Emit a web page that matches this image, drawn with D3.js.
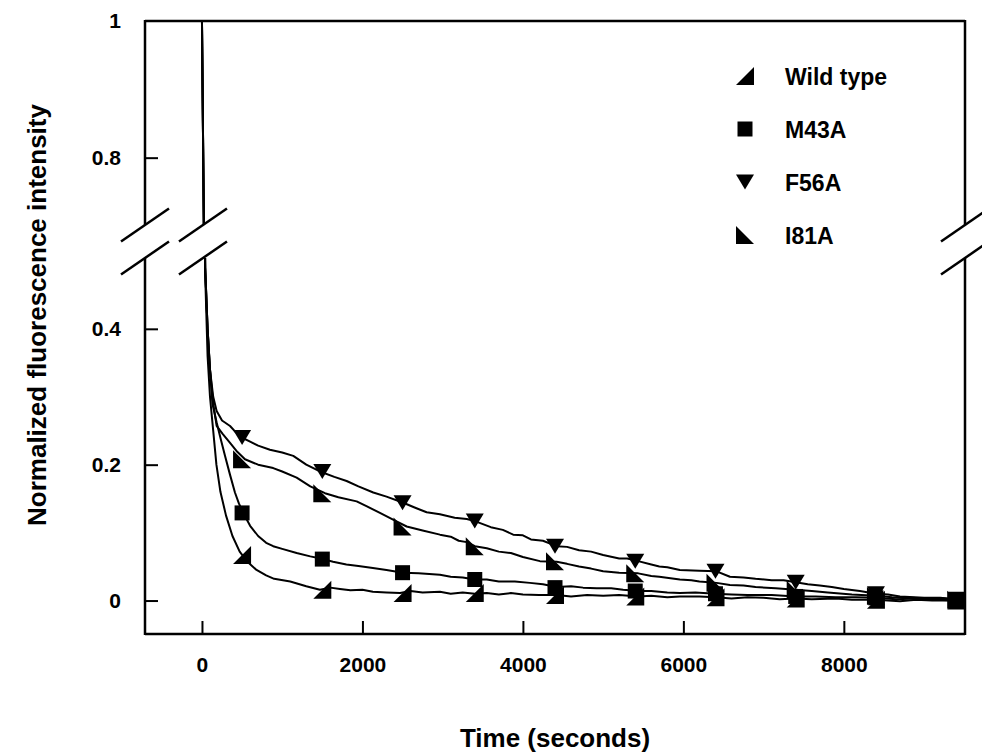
<!DOCTYPE html>
<html><head><meta charset="utf-8">
<script src="https://cdn.jsdelivr.net/npm/d3@7"></script>
<style>body{margin:0;background:#fff}svg{display:block}</style>
</head><body><svg id="c" width="982" height="756"></svg>
<script>
// ---- data: [time (s), normalized intensity] ----
const seriesNames = ["Wild type", "M43A", "F56A", "I81A"];

const wtCurve = [[0,1.0],[40,0.48],[70,0.36],[100,0.30],[140,0.25],[180,0.20],[230,0.16],[300,0.125],[380,0.095],[470,0.072],[560,0.058],[680,0.045],[800,0.037],[900,0.032],[1100,0.028],[1300,0.021],[1470,0.016],[1600,0.019],[1720,0.017],[1850,0.015],[2000,0.016],[2130,0.013],[2300,0.012],[2470,0.011],[2600,0.014],[2750,0.012],[2966,0.013],[3100,0.010],[3250,0.012],[3400,0.010],[3550,0.011],[3700,0.009],[3850,0.011],[4000,0.009],[4200,0.008],[4420,0.008],[4600,0.006],[4800,0.008],[5000,0.007],[5200,0.008],[5437,0.006],[5600,0.007],[5800,0.005],[5956,0.006],[6200,0.006],[6400,0.005],[6600,0.003],[6800,0.005],[7000,0.004],[7200,0.002],[7400,0.003],[7600,0.002],[7900,0.003],[8100,0.001],[8400,0.001],[8700,-0.001],[8900,0.001],[9100,0.000],[9400,0.000],[9500,0.001]];

const m43Curve = [[0,1.0],[40,0.49],[70,0.40],[100,0.34],[130,0.29],[183,0.262],[240,0.235],[287,0.213],[350,0.185],[411,0.159],[460,0.143],[515,0.129],[600,0.110],[700,0.095],[800,0.085],[888,0.080],[1000,0.076],[1180,0.070],[1350,0.065],[1510,0.061],[1634,0.057],[1800,0.053],[1950,0.051],[2130,0.048],[2300,0.045],[2505,0.041],[2700,0.040],[2966,0.038],[3100,0.035],[3250,0.034],[3402,0.031],[3550,0.031],[3700,0.028],[3900,0.028],[4087,0.026],[4250,0.024],[4420,0.020],[4600,0.021],[4750,0.019],[4919,0.018],[5100,0.018],[5250,0.016],[5437,0.014],[5600,0.014],[5800,0.012],[5956,0.011],[6150,0.012],[6400,0.010],[6600,0.009],[6800,0.008],[7100,0.008],[7400,0.006],[7650,0.006],[7900,0.005],[8150,0.005],[8400,0.004],[8650,0.002],[8900,0.003],[9150,0.001],[9400,0.000],[9500,0.000]];

const f56Curve = [[0,1.0],[40,0.49],[70,0.40],[100,0.34],[140,0.30],[183,0.279],[250,0.265],[350,0.257],[420,0.248],[495,0.240],[600,0.234],[700,0.228],[847,0.222],[1000,0.218],[1138,0.213],[1300,0.200],[1470,0.190],[1650,0.182],[1803,0.176],[1950,0.168],[2135,0.159],[2300,0.153],[2509,0.144],[2650,0.137],[2800,0.130],[2966,0.127],[3150,0.122],[3300,0.120],[3402,0.117],[3600,0.108],[3750,0.104],[3879,0.097],[4000,0.096],[4100,0.090],[4250,0.088],[4420,0.080],[4550,0.079],[4700,0.074],[4850,0.072],[5000,0.067],[5200,0.062],[5300,0.062],[5437,0.058],[5600,0.053],[5700,0.050],[5800,0.049],[5956,0.045],[6200,0.044],[6414,0.043],[6580,0.035],[6750,0.034],[6900,0.032],[7100,0.030],[7250,0.030],[7400,0.027],[7550,0.024],[7700,0.022],[7850,0.020],[8000,0.017],[8200,0.014],[8400,0.010],[8550,0.009],[8700,0.006],[9000,0.004],[9200,0.004],[9400,0.002],[9500,0.002]];

const i81Curve = [[0,1.0],[40,0.49],[70,0.40],[100,0.34],[140,0.29],[183,0.257],[260,0.245],[350,0.232],[440,0.219],[536,0.208],[700,0.200],[888,0.195],[1000,0.190],[1180,0.181],[1350,0.168],[1533,0.158],[1700,0.152],[1928,0.146],[2050,0.139],[2218,0.129],[2400,0.118],[2551,0.109],[2750,0.103],[2966,0.097],[3100,0.094],[3200,0.088],[3300,0.086],[3402,0.080],[3550,0.077],[3700,0.072],[3850,0.070],[4000,0.064],[4212,0.058],[4420,0.057],[4550,0.054],[4700,0.050],[4850,0.047],[5000,0.043],[5200,0.041],[5437,0.040],[5600,0.036],[5700,0.035],[5956,0.031],[6100,0.030],[6200,0.028],[6414,0.026],[6580,0.023],[6750,0.022],[6900,0.020],[7150,0.018],[7400,0.016],[7600,0.014],[7800,0.012],[8100,0.009],[8400,0.007],[8600,0.005],[8800,0.004],[9100,0.003],[9250,0.003],[9400,0.001],[9500,0.001]];

const markerTimes = [500,1500,2500,3400,4400,5400,6400,7400,8400,9400];
const wtMarkers  = [0.067,0.016,0.011,0.011,0.008,0.006,0.005,0.003,0.001,0.000];
const m43Markers = [0.129,0.061,0.041,0.031,0.019,0.014,0.010,0.006,0.004,0.000];
const f56Markers = [0.240,0.190,0.144,0.117,0.080,0.058,0.043,0.027,0.010,0.002];
const i81Markers = [0.208,0.158,0.109,0.080,0.058,0.040,0.026,0.016,0.007,0.001];

const xTickValues = [0,2000,4000,6000,8000];
const yTicksLower = [0,0.2,0.4];
const yTicksUpper = [0.8,1];

// ---- drawing ----
const svg = d3.select("#c");
const FONT = "'Liberation Sans', Arial, Helvetica, sans-serif";
const L = 145, R = 965, T = 21, B = 634;
const upBottom = 225, loTop = 258;

const x = d3.scaleLinear().domain([-710, 9510]).range([L, R]);
const yLo = d3.scaleLinear().domain([-0.05, 0.505]).range([634.5, 257.5]);
const yUp = d3.scaleLinear().domain([0.7, 1.0]).range([226, 21]);

const defs = svg.append("defs");
defs.append("clipPath").attr("id","clipUp").append("rect")
  .attr("x", L).attr("y", T).attr("width", R-L).attr("height", upBottom-T);
defs.append("clipPath").attr("id","clipLo").append("rect")
  .attr("x", L).attr("y", loTop).attr("width", R-L).attr("height", B-loTop);

function styleAxis(g){
  g.select(".domain").remove();
  g.selectAll(".tick line").attr("stroke","#000").attr("stroke-width",2);
  g.selectAll(".tick text").attr("fill","#000")
    .style("font-family", FONT).style("font-weight","bold").style("font-size","21px");
}
const fmt = d => String(d);

svg.append("g").attr("transform",`translate(${L},0)`)
  .call(d3.axisLeft(yLo).tickValues(yTicksLower).tickFormat(fmt).tickSizeInner(-13).tickSizeOuter(0).tickPadding(24))
  .call(styleAxis);
svg.append("g").attr("transform",`translate(${L},0)`)
  .call(d3.axisLeft(yUp).tickValues(yTicksUpper).tickFormat(fmt).tickSizeInner(-13).tickSizeOuter(0).tickPadding(24))
  .call(styleAxis)
  .call(g => g.selectAll(".tick").filter(d => d === 1).select("line").remove());
svg.append("g").attr("transform",`translate(0,${B})`)
  .call(d3.axisBottom(x).tickValues(xTickValues).tickFormat(fmt).tickSizeInner(-13).tickSizeOuter(0).tickPadding(23))
  .call(styleAxis);

// frame
const frame = svg.append("g").attr("stroke","#000").attr("stroke-width",2.5).attr("fill","none");
frame.append("line").attr("x1",L).attr("x2",R).attr("y1",T).attr("y2",T);
frame.append("line").attr("x1",L).attr("x2",R).attr("y1",B).attr("y2",B);
[L, R].forEach(xx => {
  frame.append("line").attr("x1",xx).attr("x2",xx).attr("y1",T-1).attr("y2",upBottom);
  frame.append("line").attr("x1",xx).attr("x2",xx).attr("y1",loTop).attr("y2",B+1);
});
// break marks
[L, x(0)+1, R].forEach(cx => {
  [upBottom, loTop].forEach(yb => {
    frame.append("line").attr("x1",cx-24).attr("y1",yb+16.5).attr("x2",cx+24).attr("y2",yb-16.5);
  });
});

// curves
const curveData = [wtCurve, m43Curve, f56Curve, i81Curve].map(c => c.map(([t,v]) => ({t, v})));
const lineUp = d3.line().x(d=>x(d.t)).y(d=>yUp(d.v));
const lineLo = d3.line().x(d=>x(d.t)).y(d=>yLo(d.v));
const curves = svg.append("g").attr("fill","none").attr("stroke","#000").attr("stroke-width",2).attr("stroke-linejoin","round");
curveData.forEach(cd => {
  curves.append("path").attr("clip-path","url(#clipUp)").attr("d", lineUp(cd));
  curves.append("path").attr("clip-path","url(#clipLo)").attr("d", lineLo(cd));
});

// marker shapes
function shapePath(kind, cx, cy){
  const h = 9;
  if (kind === 0) return `M${cx+h},${cy-h}L${cx+h},${cy+h}L${cx-h},${cy+h}Z`;          // wild type
  if (kind === 1) { const s = 7.5; return `M${cx-s},${cy-s}H${cx+s}V${cy+s}H${cx-s}Z`; } // square
  if (kind === 2) return `M${cx-h},${cy-7.5}L${cx+h},${cy-7.5}L${cx},${cy+7.5}Z`;      // down triangle
  return `M${cx-h},${cy-h}L${cx-h},${cy+h}L${cx+h},${cy+h}Z`;                           // I81A
}
const markerSets = [wtMarkers, m43Markers, f56Markers, i81Markers];
const mg = svg.append("g").attr("fill","#000");
markerSets.forEach((vals, k) => {
  mg.selectAll(null).data(markerTimes.map((t,i)=>({t, v: vals[i]}))).enter()
    .append("path").attr("d", d => shapePath(k, x(d.t), yLo(d.v)));
});

// legend
const legendBase = [85, 138, 191, 244];
const lg = svg.append("g");
seriesNames.forEach((name, k) => {
  lg.append("path").attr("fill","#000").attr("d", shapePath(k, 745, legendBase[k]-9));
  lg.append("text").attr("x", 785).attr("y", legendBase[k]).text(name)
    .style("font-family", FONT).style("font-weight","bold").style("font-size","23px");
});

// axis titles
svg.append("text").attr("transform","translate(46,315) rotate(-90)").attr("text-anchor","middle")
  .style("font-family", FONT).style("font-weight","bold").style("font-size","26px")
  .text("Normalized fluorescence intensity");
svg.append("text").attr("x", 555).attr("y", 747).attr("text-anchor","middle")
  .style("font-family", FONT).style("font-weight","bold").style("font-size","26px")
  .text("Time (seconds)");
</script>
</body></html>
